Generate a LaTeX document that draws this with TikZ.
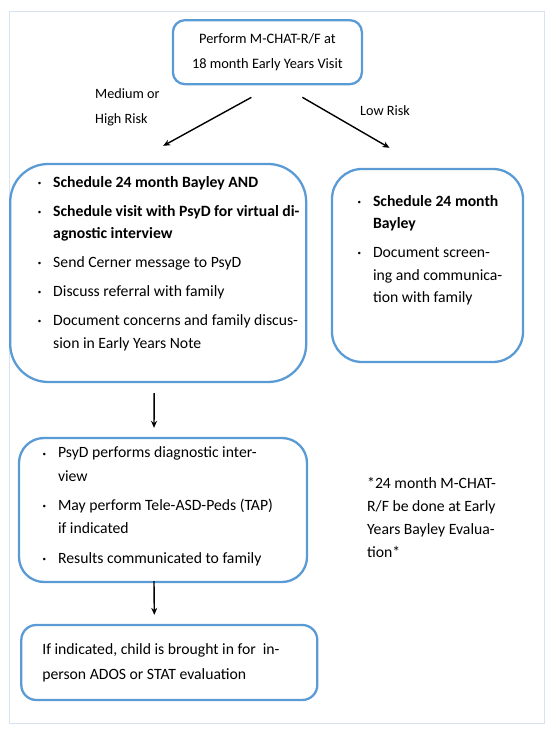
\documentclass[tikz,border=0pt]{standalone}
\usepackage{fontspec}
\setmainfont{Carlito}
\usepackage{xcolor}
\usepackage{tikz}
\usetikzlibrary{arrows.meta, positioning, calc}

\definecolor{boxblue}{RGB}{91,155,213}
\definecolor{framegray}{RGB}{214,227,243}

\newcommand{\itembul}{\makebox[17pt][l]{\hspace{1.5pt}\raisebox{1.8pt}{\scriptsize\textbullet}}}
\newcommand{\itemcont}{\hspace*{17pt}}

\begin{document}
\begin{tikzpicture}[
    x=1pt, y=1pt,
    font=\fontsize{15.7}{22.5}\selectfont,
    panel/.style={draw=boxblue, line width=2.3pt, rounded corners=#1, inner sep=0pt},
    panel/.default=12pt,
    list/.style={align=flush left, inner sep=0pt, anchor=north west},
    label/.style={align=flush left, inner sep=0pt, anchor=north west, font=\fontsize{14.2}{25}\selectfont},
    arrow/.style={-{Stealth[length=7pt, width=6pt]}, line width=1.4pt, draw=black}
]
    \useasboundingbox (0,0) rectangle (555,736);
    \draw[framegray, line width=0.8pt] (9,725) rectangle (544,13);

    % Boxes
    \node[panel, align=center, minimum width=189pt, minimum height=64pt,
          font=\fontsize{14.4}{25}\selectfont] (perform) at (267.4,683.8)
        {Perform M-CHAT-R/F at\\18 month Early Years Visit};
    \node[panel=38pt, minimum width=296pt, minimum height=218pt] (high) at (158.2,463) {};
    \node[panel=30pt, minimum width=191pt, minimum height=193pt] (low) at (427.5,470.5) {};
    \node[panel=25pt, minimum width=288pt, minimum height=144pt] (psyd) at (163,226) {};
    \node[panel=15pt, align=flush left, text width=254pt, inner xsep=21pt, minimum width=295pt, minimum height=75pt] (adosbox) at (169.3,73.5)
        {If indicated, child is brought in for\ \ in-\\[2.5pt]person ADOS or STAT evaluation};

    % Box texts
    \node[list, below right=13pt and 27pt of high.north west] (highlist) {%
        \itembul\textbf{Schedule 24 month Bayley AND}\\[6.5pt]
        \itembul\textbf{Schedule visit with PsyD for virtual di-}\\
        \itemcont\textbf{agnostic interview}\\[6.5pt]
        \itembul Send Cerner message to PsyD\\[6.5pt]
        \itembul Discuss referral with family\\[6.5pt]
        \itembul Document concerns and family discus-\\
        \itemcont sion in Early Years Note};
    \node[list, below right=27pt and 25pt of low.north west] (lowlist) {%
        \itembul\textbf{Schedule 24 month}\\
        \itemcont\textbf{Bayley}\\[6.5pt]
        \itembul Document screen-\\
        \itemcont ing and communica-\\
        \itemcont tion with family};
    \node[list, below right=10pt and 23pt of psyd.north west] (psydlist) {%
        \itembul PsyD performs diagnostic inter-\\[1pt]
        \itemcont view\\[6.5pt]
        \itembul May perform Tele-ASD-Peds (TAP)\\[1pt]
        \itemcont if indicated\\[7pt]
        \itembul Results communicated to family};

    % Labels
    \node[label] (medhigh) at (95,648) {Medium or\\High Risk};
    \node[label] (lowrisk) at (360,631) {Low Risk};
    \node[label, font=\fontsize{15.7}{23}\selectfont] (note) at (367,259)
        {*24 month M-CHAT-\\R/F be done at Early\\Years Bayley Evalua-\\tion*};

    % Connectors
    \draw[arrow] ($(perform.south)+(-16,-12)$) -- ($(high.north)+(5,17)$);
    \draw[arrow] ($(perform.south)+(35,-12)$) -- ($(low.north)+(-38,20)$);
    \draw[arrow] ($(high.south)+(-4,-10)$) -- ($(psyd.north)+(-9,9)$);
    \draw[arrow] ($(psyd.south)+(-9,2)$) -- ($(adosbox.north)+(-15,9)$);
\end{tikzpicture}
\end{document}
